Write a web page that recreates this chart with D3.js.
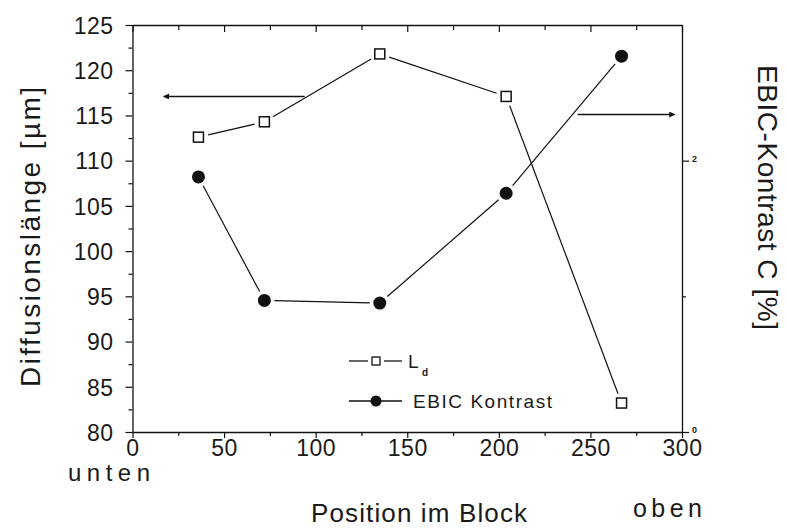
<!DOCTYPE html>
<html>
<head>
<meta charset="utf-8">
<script src="https://cdn.jsdelivr.net/npm/d3@7"></script>
<style>
  html, body { margin: 0; padding: 0; background: #fff; }
  svg { display: block; }
  text { font-family: "Liberation Sans", Arial, sans-serif; fill: #1a1a1a; }
</style>
</head>
<body>
<svg id="chart" width="787" height="529"></svg>
<script>
// Measurement positions along the block (bottom -> top)
const positions = [36, 72, 135, 204, 267];
// Diffusion length L_d in µm
const diffusionLength = [112.6, 114.3, 121.8, 117.1, 83.2];
// EBIC contrast C in %
const ebicContrast = [1.88, 0.97, 0.95, 1.76, 2.77];

const xTicks = [0, 50, 100, 150, 200, 250, 300];
const yLeftTicks = [80, 85, 90, 95, 100, 105, 110, 115, 120, 125];
const yRightTickLabels = [0, 2];

// Annotation arrows pointing to the axis each curve belongs to
const arrowLeft = { y: 117.1, from: 94, to: 17 };
const arrowRight = { y: 2.34, from: 243, to: 296 };

const svg = d3.select("#chart");
const m = { left: 132.5, right: 682, top: 25, bottom: 432 };

const x = d3.scaleLinear().domain([0, 300]).range([m.left, m.right]);
const yL = d3.scaleLinear().domain([80, 125]).range([m.bottom, m.top]);
const yR = d3.scaleLinear().domain([0, 3]).range([m.bottom, m.top]);

const ink = "#111";

function styleAxis(g) {
  g.select(".domain").attr("stroke", ink).attr("stroke-width", 1.3);
  g.selectAll(".tick line").attr("stroke", ink).attr("stroke-width", 1.2);
}

// Bottom axis: major ticks with labels, minor ticks between
const xMinor = d3.range(25, 300, 50);
svg.append("g").attr("transform", `translate(0,${m.bottom})`)
  .call(d3.axisBottom(x).tickValues(xTicks).tickSize(6).tickSizeOuter(0).tickFormat(d3.format("d")))
  .call(styleAxis)
  .call(g => g.selectAll(".tick text").attr("font-size", 23).attr("dy", "0.95em").attr("y", 2).attr("letter-spacing", 0.5));
svg.append("g").attr("transform", `translate(0,${m.bottom})`)
  .call(d3.axisBottom(x).tickValues(xMinor).tickSize(4).tickFormat(""))
  .call(styleAxis).call(g => g.select(".domain").remove());

// Top axis: inward ticks
svg.append("g").attr("transform", `translate(0,${m.top})`)
  .call(d3.axisTop(x).tickValues(xTicks).tickSize(-7).tickSizeOuter(0).tickFormat(""))
  .call(styleAxis);
svg.append("g").attr("transform", `translate(0,${m.top})`)
  .call(d3.axisTop(x).tickValues(xMinor).tickSize(-5).tickFormat(""))
  .call(styleAxis).call(g => g.select(".domain").remove());

// Left axis
const yMinor = d3.range(82.5, 125, 5);
svg.append("g").attr("transform", `translate(${m.left},0)`)
  .call(d3.axisLeft(yL).tickValues(yLeftTicks).tickSize(7).tickSizeOuter(0).tickFormat(d3.format("d")))
  .call(styleAxis)
  .call(g => g.selectAll(".tick text").attr("font-size", 23).attr("x", -19).attr("dy", "0.36em").attr("letter-spacing", 0.5));
svg.append("g").attr("transform", `translate(${m.left},0)`)
  .call(d3.axisLeft(yL).tickValues(yMinor).tickSize(4).tickFormat(""))
  .call(styleAxis).call(g => g.select(".domain").remove());

// Right axis (EBIC contrast), with its small labels
svg.append("g").attr("transform", `translate(${m.right},0)`)
  .call(d3.axisRight(yR).tickValues(yRightTickLabels).tickSize(7).tickSizeOuter(0).tickFormat(d3.format("d")))
  .call(styleAxis)
  .call(g => g.selectAll(".tick text").attr("font-size", 9).attr("font-weight", "bold").attr("x", 10).attr("dy", "0.1em"));
svg.append("g").attr("transform", `translate(${m.right},0)`)
  .call(d3.axisRight(yR).tickValues([1]).tickSize(4).tickFormat(""))
  .call(styleAxis).call(g => g.select(".domain").remove());

// Connecting lines that stop short of the symbols
function gappedSegments(xs, ys, yScale, gap) {
  const segs = [];
  for (let i = 0; i < xs.length - 1; i++) {
    const x1 = x(xs[i]), y1 = yScale(ys[i]), x2 = x(xs[i + 1]), y2 = yScale(ys[i + 1]);
    const len = Math.hypot(x2 - x1, y2 - y1);
    const ux = (x2 - x1) / len, uy = (y2 - y1) / len;
    segs.push([x1 + ux * gap, y1 + uy * gap, x2 - ux * gap, y2 - uy * gap]);
  }
  return segs;
}

svg.append("g").selectAll("line")
  .data(gappedSegments(positions, diffusionLength, yL, 10))
  .join("line")
  .attr("x1", d => d[0]).attr("y1", d => d[1]).attr("x2", d => d[2]).attr("y2", d => d[3])
  .attr("stroke", ink).attr("stroke-width", 1.2);

svg.append("g").selectAll("line")
  .data(gappedSegments(positions, ebicContrast, yR, 10))
  .join("line")
  .attr("x1", d => d[0]).attr("y1", d => d[1]).attr("x2", d => d[2]).attr("y2", d => d[3])
  .attr("stroke", ink).attr("stroke-width", 1.2);

// Open squares: diffusion length
svg.append("g").selectAll("rect")
  .data(positions.map((p, i) => [p, diffusionLength[i]]))
  .join("rect")
  .attr("x", d => x(d[0]) - 5).attr("y", d => yL(d[1]) - 5)
  .attr("width", 10).attr("height", 10)
  .attr("fill", "#fff").attr("stroke", ink).attr("stroke-width", 1.5);

// Filled circles: EBIC contrast
svg.append("g").selectAll("circle")
  .data(positions.map((p, i) => [p, ebicContrast[i]]))
  .join("circle")
  .attr("cx", d => x(d[0])).attr("cy", d => yR(d[1]))
  .attr("r", 6.5).attr("fill", ink);

// Arrows
const defs = svg.append("defs");
defs.append("marker").attr("id", "head")
  .attr("viewBox", "0 0 10 10").attr("refX", 9).attr("refY", 5)
  .attr("markerWidth", 9).attr("markerHeight", 6).attr("markerUnits", "userSpaceOnUse")
  .attr("orient", "auto")
  .append("path").attr("d", "M0,0 L10,5 L0,10 z").attr("fill", ink);

svg.append("line")
  .attr("x1", x(arrowLeft.from)).attr("x2", x(arrowLeft.to))
  .attr("y1", yL(arrowLeft.y)).attr("y2", yL(arrowLeft.y))
  .attr("stroke", ink).attr("stroke-width", 1.5).attr("marker-end", "url(#head)");
svg.append("line")
  .attr("x1", x(arrowRight.from)).attr("x2", x(arrowRight.to))
  .attr("y1", yR(arrowRight.y)).attr("y2", yR(arrowRight.y))
  .attr("stroke", ink).attr("stroke-width", 1.5).attr("marker-end", "url(#head)");

// Legend
const lg = svg.append("g");
const legendX0 = 349, legendX1 = 402, legendMid = 376;
const row1 = 361, row2 = 401;
lg.append("line").attr("x1", legendX0).attr("x2", legendMid - 8).attr("y1", row1).attr("y2", row1).attr("stroke", ink).attr("stroke-width", 1.3);
lg.append("line").attr("x1", legendMid + 8).attr("x2", legendX1).attr("y1", row1).attr("y2", row1).attr("stroke", ink).attr("stroke-width", 1.3);
lg.append("rect").attr("x", legendMid - 4).attr("y", row1 - 4).attr("width", 8).attr("height", 8)
  .attr("fill", "#fff").attr("stroke", ink).attr("stroke-width", 1.3);
lg.append("text").attr("x", 408).attr("y", row1 + 7).attr("font-size", 19).text("L");
lg.append("text").attr("x", 422).attr("y", row1 + 15).attr("font-size", 10).attr("font-weight", "bold").text("d");

lg.append("line").attr("x1", legendX0).attr("x2", legendX1).attr("y1", row2).attr("y2", row2).attr("stroke", ink).attr("stroke-width", 1.3);
lg.append("circle").attr("cx", legendMid).attr("cy", row2).attr("r", 5.5).attr("fill", ink);
lg.append("text").attr("x", 413).attr("y", row2 + 7).attr("font-size", 19)
  .attr("textLength", 139).attr("lengthAdjust", "spacing").text("EBIC Kontrast");

// Axis titles
svg.append("text").attr("x", 311).attr("y", 522).attr("font-size", 26)
  .attr("textLength", 216).attr("lengthAdjust", "spacing").text("Position im Block");
svg.append("text").attr("x", 68).attr("y", 481).attr("font-size", 24)
  .attr("textLength", 82).attr("lengthAdjust", "spacing").text("unten");
svg.append("text").attr("x", 633).attr("y", 517).attr("font-size", 25)
  .attr("textLength", 69).attr("lengthAdjust", "spacing").text("oben");

svg.append("text")
  .attr("transform", "translate(40,387) rotate(-90)")
  .attr("font-size", 28).attr("textLength", 300).attr("lengthAdjust", "spacing")
  .text("Diffusionslänge [µm]");

svg.append("text")
  .attr("transform", "translate(758,65) rotate(90)")
  .attr("font-size", 28).attr("textLength", 265).attr("lengthAdjust", "spacing")
  .text("EBIC-Kontrast C [%]");
</script>
</body>
</html>
